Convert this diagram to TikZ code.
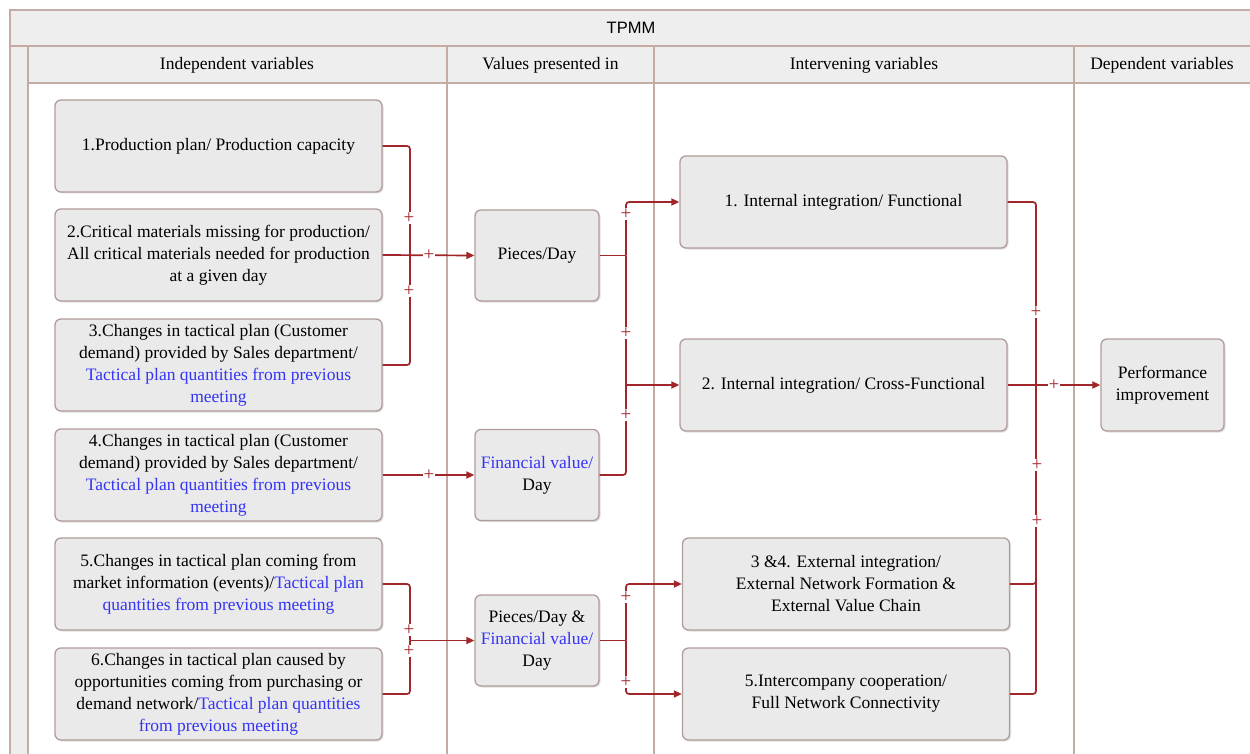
\documentclass[tikz,border=0pt]{standalone}
\usepackage{fontspec}
\setmainfont{Liberation Serif}
\newfontfamily\hdsans{Liberation Sans}
\usetikzlibrary{shadows,arrows.meta}
\definecolor{tblue}{HTML}{3434F5}
\definecolor{conncol}{HTML}{A0262A}
\definecolor{boxborder}{HTML}{B09C9A}
\definecolor{boxfill}{HTML}{EBEAEA}
\definecolor{hdfill}{HTML}{EEEEEE}
\definecolor{hdline}{HTML}{C4ACA4}
\tikzset{
  vbox/.style={draw=boxborder, line width=1.3pt, fill=boxfill, rounded corners=6pt,
    align=center, inner sep=2pt, font=\fontsize{17.5}{22}\selectfont,
    drop shadow={opacity=0.25, shadow xshift=1.5pt, shadow yshift=-1.5pt}},
  bigbox/.style={vbox, minimum width=327pt, minimum height=92pt},
  smallbox/.style={vbox, minimum width=124pt, minimum height=91pt},
  conn/.style={draw=conncol, line width=1.7pt},
  arr/.style={conn, -{Triangle[length=8pt,width=7pt]}},
  plus/.style={fill=white, text=conncol, inner sep=0.5pt, font=\fontsize{19}{19}\selectfont},
  hdtext/.style={font=\fontsize{17.5}{20}\selectfont, anchor=center},
}
\begin{document}
\begin{tikzpicture}[x=1pt,y=-1pt]
\useasboundingbox (0,0) rectangle (1250,754);
\fill[white] (0,0) rectangle (1250,754);
\begin{scope}
\clip (0,0) rectangle (1250,754);
% frame and headers
\draw[hdline, line width=1.2pt, fill=hdfill] (10,10) rectangle (1270,46);
\draw[hdline, line width=1.2pt, fill=hdfill] (10,46) rectangle (28,770);
\draw[hdline, line width=1.2pt, fill=hdfill] (28,46) rectangle (1270,83);
\draw[hdline, line width=1.2pt] (447,46) -- (447,770);
\draw[hdline, line width=1.2pt] (654,46) -- (654,770);
\draw[hdline, line width=1.2pt] (1074,46) -- (1074,770);
\end{scope}
\node[hdtext, font=\hdsans\fontsize{16.5}{20}\selectfont] (tpmm) at (631,28) {TPMM};
\node[hdtext] (h1) at (237,65) {Independent variables};
\node[hdtext] (h2) at (550.5,65) {Values presented in};
\node[hdtext] (h3) at (864,65) {Intervening variables};
\node[hdtext] (h4) at (1162,65) {Dependent variables};

% left boxes
\node[bigbox] (b1) at (218.5,146) {1.Production plan/ Production capacity};
\node[bigbox] (b2) at (218.5,255) {2.Critical materials missing for production/\\All critical materials needed for production\\at a given day};
\node[bigbox] (b3) at (218.5,365) {3.Changes in tactical plan (Customer\\demand) provided by Sales department/\\\textcolor{tblue}{Tactical plan quantities from previous}\\\textcolor{tblue}{meeting}};
\node[bigbox] (b4) at (218.5,475) {4.Changes in tactical plan (Customer\\demand) provided by Sales department/\\\textcolor{tblue}{Tactical plan quantities from previous}\\\textcolor{tblue}{meeting}};
\node[bigbox] (b5) at (218.5,584) {5.Changes in tactical plan coming from\\market information (events)/\textcolor{tblue}{Tactical plan}\\\textcolor{tblue}{quantities from previous meeting}};
\node[bigbox] (b6) at (218.5,694) {6.Changes in tactical plan caused by\\opportunities coming from purchasing or\\demand network/\textcolor{tblue}{Tactical plan quantities}\\\textcolor{tblue}{from previous meeting}};

% value boxes
\node[smallbox] (p1) at (537,255.5) {Pieces/Day};
\node[smallbox] (p2) at (537,475) {\textcolor{tblue}{Financial value/}\\Day};
\node[smallbox] (p3) at (537,640.5) {Pieces/Day \&\\\textcolor{tblue}{Financial value/}\\Day};

% intervening boxes
\node[bigbox] (i1) at (843.5,202) {1. Internal integration/ Functional};
\node[bigbox] (i2) at (843.5,385) {2. Internal integration/ Cross-Functional};
\node[bigbox] (i3) at (846,584) {3 \&4. External integration/\\External Network Formation \&\\External Value Chain};
\node[bigbox] (i4) at (846,694) {5.Intercompany cooperation/\\Full Network Connectivity};

% dependent
\node[vbox, minimum width=123pt, minimum height=92pt] (perf) at (1162.5,385) {Performance\\improvement};

% junction coordinates
\coordinate (j1) at (410,255);
\coordinate (j1b) at (410,640.5);
\coordinate (j2) at (626,255.5);
\coordinate (j3) at (626,385);
\coordinate (j4) at (626,640.5);
\coordinate (j5) at (1036,385);

% connectors left -> values
\draw[conn, rounded corners=3pt] (b1.east) -| (j1);
\draw[conn, rounded corners=3pt] (b3.east) -| (j1);
\draw[arr] (b2.east) -- (p1.west);
\draw[arr] (b4.east) -- (p2.west);
\draw[conn, rounded corners=3pt] (b5.east) -| (j1b);
\draw[conn, rounded corners=3pt] (b6.east) -| (j1b);
\draw[arr] (j1b) -- (p3.west);

% values -> intervening
\draw[conn] (p1.east) -- (j2);
\draw[arr, rounded corners=3pt] (j2) |- (i1.west);
\draw[conn] (j2) -- (j3);
\draw[conn, rounded corners=3pt] (p2.east) -| (j3);
\draw[arr] (j3) -- (i2.west);
\draw[conn] (p3.east) -- (j4);
\draw[arr, rounded corners=3pt] (j4) |- (i3.west);
\draw[arr, rounded corners=3pt] (j4) |- (i4.west);

% intervening -> dependent
\draw[conn, rounded corners=3pt] (i1.east) -| (j5);
\draw[conn, rounded corners=3pt] (i3.east) -| (j5);
\draw[conn, rounded corners=3pt] (i4.east) -| (j5);
\draw[arr] (i2.east) -- (perf.west);

% plus signs
\node[plus] (s1) at (409,218) {+};
\node[plus] (s2) at (409,291) {+};
\node[plus] (s3) at (429,255) {+};
\node[plus] (s4) at (429,475) {+};
\node[plus] (s5) at (409,630) {+};
\node[plus] (s6) at (409,651) {+};
\node[plus] (s7) at (626,214) {+};
\node[plus] (s8) at (626,333) {+};
\node[plus] (s9) at (626,415) {+};
\node[plus] (s10) at (626,597) {+};
\node[plus] (s11) at (626,682) {+};
\node[plus] (s12) at (1036,312) {+};
\node[plus] (s13) at (1054,385) {+};
\node[plus] (s14) at (1037,465) {+};
\node[plus] (s15) at (1037,521) {+};
\end{tikzpicture}
\end{document}
